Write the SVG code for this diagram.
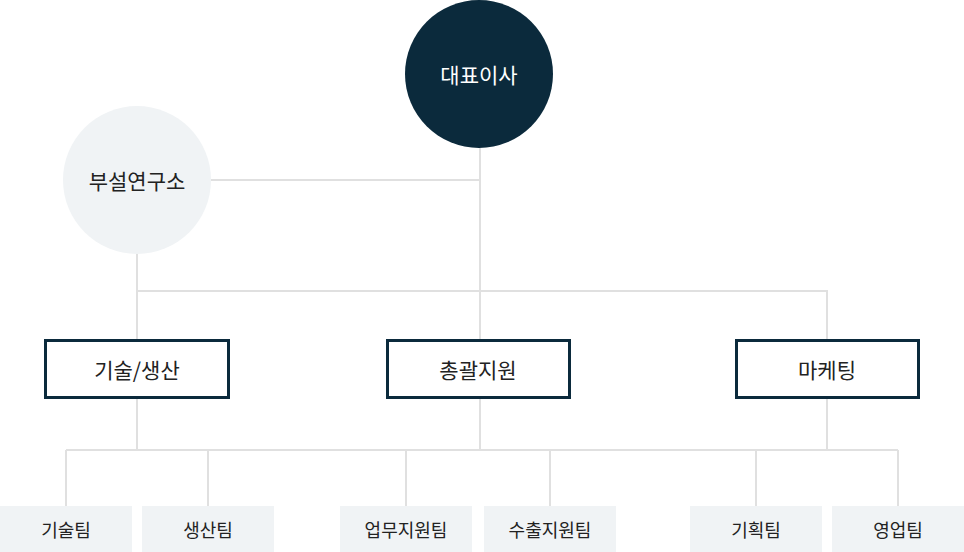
<svg xmlns="http://www.w3.org/2000/svg" width="964" height="552" viewBox="0 0 964 552">
<style>
text{font-family:"Noto Sans CJK KR","Noto Sans",sans-serif;text-anchor:middle;dominant-baseline:central}
.ln{stroke:#e0e0e0;stroke-width:2;fill:none}
.box{fill:#fff;stroke:#0b2a3c;stroke-width:3}
.team{fill:#f0f3f5}
.t1{font-size:21px;fill:#222}
.t2{font-size:18px;fill:#222}
</style>
<rect width="964" height="552" fill="#fff"/>
<g id="connectors">
<path class="ln" d="M211 180H480M480 148V340M137 254V340M137 291H827V340M137 399V450M480 399V450M827 399V450M66 450H898M66 450V506M208 450V506M406 450V506M550 450V506M756 450V506M898 450V506"/>
</g>
<g id="ceo"><circle cx="479" cy="74" r="74" fill="#0b2a3c"/><text x="479" y="74" font-size="21" fill="#fff">대표이사</text></g>
<g id="lab"><circle cx="137" cy="180" r="74" fill="#f0f3f5"/><text class="t1" x="137" y="180">부설연구소</text></g>
<g id="tech"><rect class="box" x="45.5" y="340.5" width="183" height="57"/><text class="t1" x="137" y="369">기술/생산</text></g>
<g id="admin"><rect class="box" x="387.5" y="340.5" width="182" height="57"/><text class="t1" x="478" y="369">총괄지원</text></g>
<g id="marketing"><rect class="box" x="736.5" y="340.5" width="182" height="57"/><text class="t1" x="827" y="369">마케팅</text></g>
<g id="team1"><rect class="team" x="0" y="506" width="132" height="46"/><text class="t2" x="66" y="529">기술팀</text></g>
<g id="team2"><rect class="team" x="142" y="506" width="132" height="46"/><text class="t2" x="208" y="529">생산팀</text></g>
<g id="team3"><rect class="team" x="340" y="506" width="132" height="46"/><text class="t2" x="406" y="529">업무지원팀</text></g>
<g id="team4"><rect class="team" x="484" y="506" width="132" height="46"/><text class="t2" x="550" y="529">수출지원팀</text></g>
<g id="team5"><rect class="team" x="690" y="506" width="132" height="46"/><text class="t2" x="756" y="529">기획팀</text></g>
<g id="team6"><rect class="team" x="832" y="506" width="132" height="46"/><text class="t2" x="898" y="529">영업팀</text></g>
</svg>
